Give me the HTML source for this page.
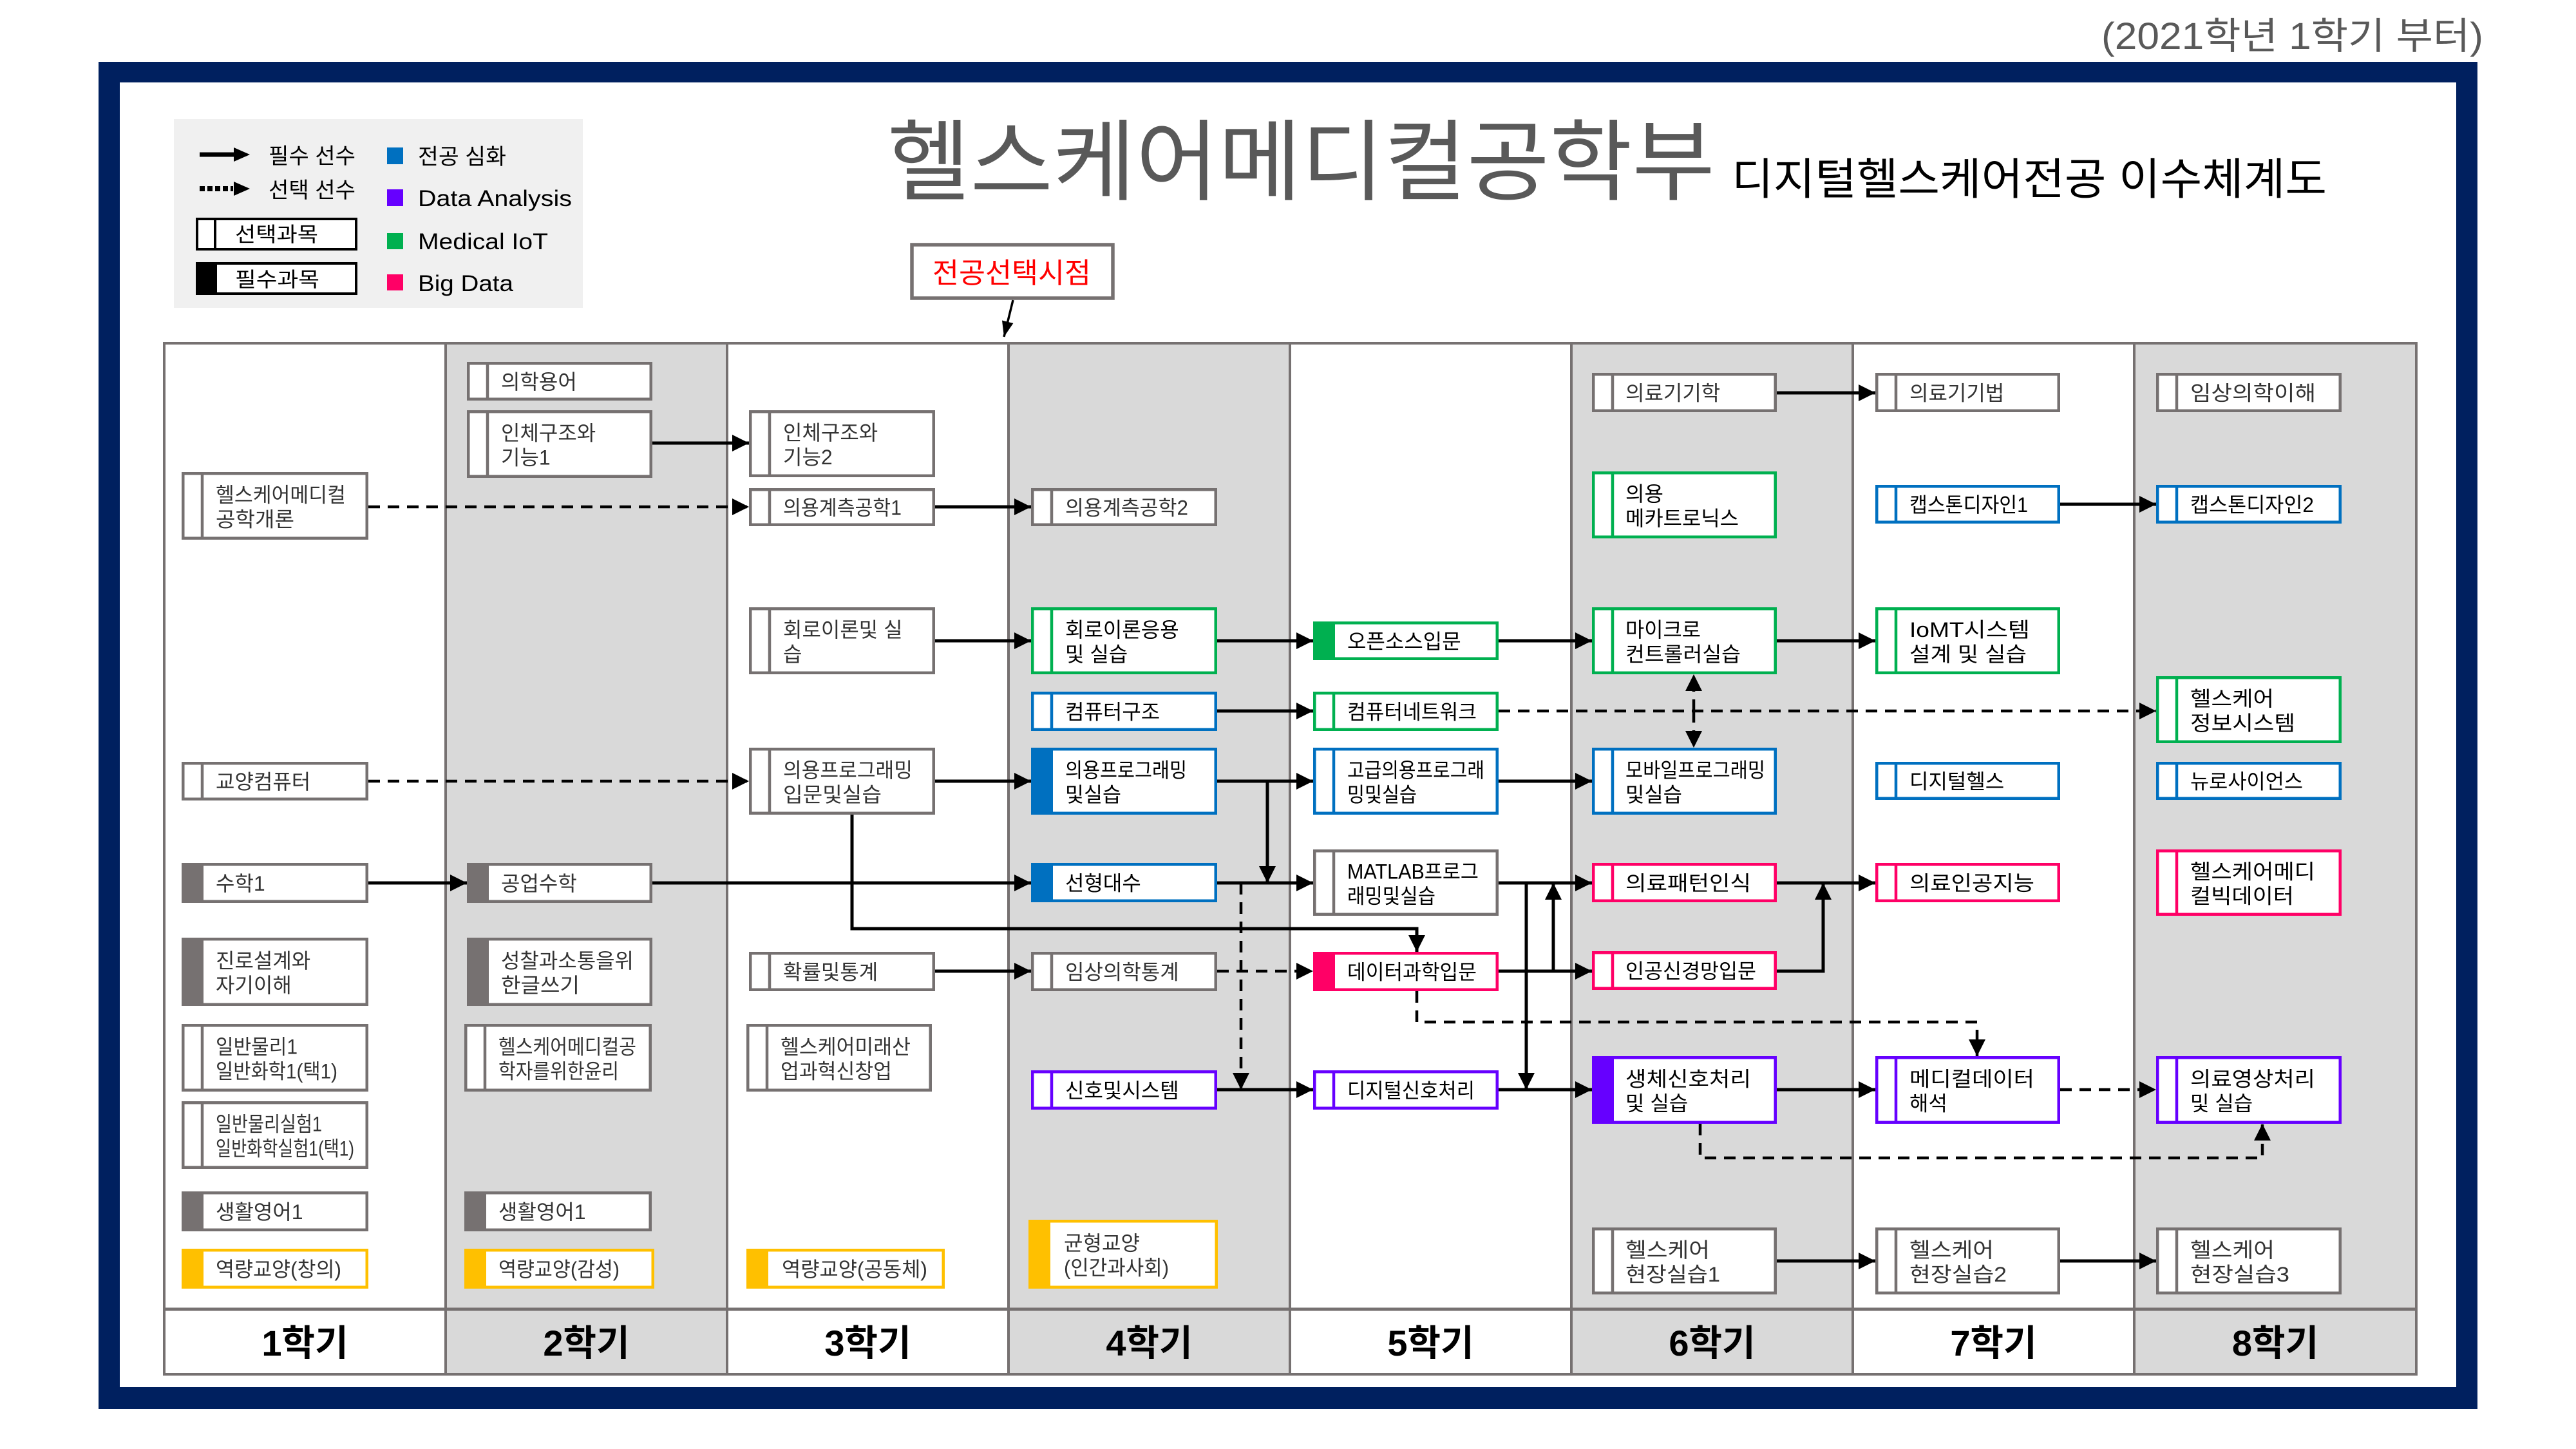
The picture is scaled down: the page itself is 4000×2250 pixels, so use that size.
<!DOCTYPE html>
<html lang="ko">
<head>
<meta charset="utf-8">
<title>디지털헬스케어전공 이수체계도</title>
<style>
html,body{margin:0;padding:0;background:#fff;}
svg{display:block;}
svg text{font-family:"Liberation Sans","Noto Sans CJK KR",sans-serif;}
.t{font-size:32px;fill:#333;}
.k{font-size:32px;fill:#000;}
.n{fill:#fff;stroke-width:4.5;}
.s{stroke-width:4.5;}
.e{fill:none;stroke:#000;stroke-width:5;}
.d{fill:none;stroke:#000;stroke-width:4.5;stroke-dasharray:18 12;}
.lab{font-size:56px;font-weight:700;fill:#000;}
</style>
</head>
<body>
<svg width="4000" height="2250" viewBox="0 0 4000 2250" xmlns="http://www.w3.org/2000/svg">
<defs>
<marker id="a" markerUnits="userSpaceOnUse" markerWidth="28" markerHeight="26" refX="26" refY="13" orient="auto"><path d="M0,0 L26,13 L0,26 z" fill="#000"/></marker>
<marker id="b" markerUnits="userSpaceOnUse" markerWidth="26" markerHeight="18" refX="24" refY="9" orient="auto"><path d="M0,0 L24,9 L0,18 z" fill="#000"/></marker>
</defs>
<rect x="0" y="0" width="4000" height="2250" fill="#fff"/>

<!-- top-right note -->
<text x="3263" y="76" font-size="58" fill="#595959" textLength="593" lengthAdjust="spacingAndGlyphs">(2021학년 1학기 부터)</text>

<!-- navy frame -->
<rect x="153" y="96" width="3694" height="2092" fill="#00205f"/>
<rect x="186" y="128" width="3628" height="2026" fill="#fff"/>

<!-- legend -->
<rect x="270" y="185" width="635" height="293" fill="#f0f0f0"/>
<line x1="310" y1="240" x2="366" y2="240" stroke="#000" stroke-width="7"/>
<path d="M363,229 L388,240 L363,251 z" fill="#000"/>
<text x="417" y="254" font-size="34" fill="#000" textLength="135" lengthAdjust="spacingAndGlyphs">필수 선수</text>
<line x1="310" y1="293" x2="362" y2="293" stroke="#000" stroke-width="8" stroke-dasharray="8 4"/>
<path d="M363,282 L388,293 L363,304 z" fill="#000"/>
<text x="417" y="307" font-size="34" fill="#000" textLength="135" lengthAdjust="spacingAndGlyphs">선택 선수</text>
<rect x="306" y="340" width="247" height="47" fill="#fff" stroke="#000" stroke-width="4"/>
<line x1="334" y1="338" x2="334" y2="389" stroke="#000" stroke-width="4"/>
<text x="365" y="375" font-size="32" fill="#000" textLength="129" lengthAdjust="spacingAndGlyphs">선택과목</text>
<rect x="306" y="409" width="247" height="47" fill="#fff" stroke="#000" stroke-width="4"/>
<rect x="304" y="407" width="33" height="51" fill="#000"/>
<text x="365" y="445" font-size="32" fill="#000" textLength="131" lengthAdjust="spacingAndGlyphs">필수과목</text>
<rect x="601" y="229" width="25" height="26" fill="#0070C0"/>
<rect x="601" y="294" width="25" height="26" fill="#6600FF"/>
<rect x="601" y="362" width="25" height="25" fill="#00B050"/>
<rect x="601" y="426" width="25" height="25" fill="#FF0066"/>
<text x="649" y="255" font-size="34" fill="#000" textLength="137" lengthAdjust="spacingAndGlyphs">전공 심화</text>
<text x="649" y="320" font-size="35" fill="#000" textLength="239" lengthAdjust="spacingAndGlyphs">Data Analysis</text>
<text x="649" y="387" font-size="35" fill="#000" textLength="202" lengthAdjust="spacingAndGlyphs">Medical IoT</text>
<text x="649" y="452" font-size="35" fill="#000" textLength="148" lengthAdjust="spacingAndGlyphs">Big Data</text>

<!-- title -->
<text x="1378" y="300" font-size="138" fill="#595959" textLength="1285" lengthAdjust="spacingAndGlyphs">헬스케어메디컬공학부</text>
<text x="2689" y="302" font-size="68" fill="#000" textLength="924" lengthAdjust="spacingAndGlyphs">디지털헬스케어전공 이수체계도</text>

<!-- 전공선택시점 -->
<rect x="1416" y="380" width="312" height="83" fill="#fff" stroke="#767171" stroke-width="5.5"/>
<text x="1448" y="439" font-size="44" fill="#FF0000" textLength="246" lengthAdjust="spacingAndGlyphs">전공선택시점</text>
<line x1="1573" y1="466" x2="1559" y2="523" stroke="#000" stroke-width="3.5" marker-end="url(#b)"/>

<!-- table backgrounds -->
<rect x="692" y="533" width="437" height="1601" fill="#d9d9d9"/>
<rect x="1566" y="533" width="437" height="1601" fill="#d9d9d9"/>
<rect x="2440" y="533" width="437" height="1601" fill="#d9d9d9"/>
<rect x="3314" y="533" width="438" height="1601" fill="#d9d9d9"/>
<g stroke="#767171" stroke-width="4" fill="none">
<rect x="255" y="533" width="3497" height="1601"/>
<line x1="692" y1="533" x2="692" y2="2134"/>
<line x1="1129" y1="533" x2="1129" y2="2134"/>
<line x1="1566" y1="533" x2="1566" y2="2134"/>
<line x1="2003" y1="533" x2="2003" y2="2134"/>
<line x1="2440" y1="533" x2="2440" y2="2134"/>
<line x1="2877" y1="533" x2="2877" y2="2134"/>
<line x1="3314" y1="533" x2="3314" y2="2134"/>
<line x1="255" y1="2033" x2="3752" y2="2033" stroke-width="5"/>
</g>
<text class="lab" x="473.5" y="2105" text-anchor="middle">1학기</text>
<text class="lab" x="910.5" y="2105" text-anchor="middle">2학기</text>
<text class="lab" x="1347.5" y="2105" text-anchor="middle">3학기</text>
<text class="lab" x="1784.5" y="2105" text-anchor="middle">4학기</text>
<text class="lab" x="2221.5" y="2105" text-anchor="middle">5학기</text>
<text class="lab" x="2658.5" y="2105" text-anchor="middle">6학기</text>
<text class="lab" x="3095.5" y="2105" text-anchor="middle">7학기</text>
<text class="lab" x="3533" y="2105" text-anchor="middle">8학기</text>

<!-- edges solid -->
<path class="e" d="M1013,688 H1163" marker-end="url(#a)"/>
<path class="e" d="M1452,787 H1601" marker-end="url(#a)"/>
<path class="e" d="M1452,995 H1601" marker-end="url(#a)"/>
<path class="e" d="M1890,995 H2039" marker-end="url(#a)"/>
<path class="e" d="M2327,995 H2472" marker-end="url(#a)"/>
<path class="e" d="M2759,995 H2912" marker-end="url(#a)"/>
<path class="e" d="M1890,1104 H2039" marker-end="url(#a)"/>
<path class="e" d="M1452,1213 H1601" marker-end="url(#a)"/>
<path class="e" d="M1890,1213 H2039" marker-end="url(#a)"/>
<path class="e" d="M2327,1213 H2472" marker-end="url(#a)"/>
<path class="e" d="M1968,1213 V1371" marker-end="url(#a)"/>
<path class="e" d="M572,1371 H725" marker-end="url(#a)"/>
<path class="e" d="M1013,1371 H1601" marker-end="url(#a)"/>
<path class="e" d="M1890,1371 H2039" marker-end="url(#a)"/>
<path class="e" d="M1323,1265 V1442 H2200 V1478" marker-end="url(#a)"/>
<path class="e" d="M1452,1508 H1601" marker-end="url(#a)"/>
<path class="e" d="M2327,1371 H2472" marker-end="url(#a)"/>
<path class="e" d="M2370,1371 V1692" marker-end="url(#a)"/>
<path class="e" d="M2327,1508 H2472" marker-end="url(#a)"/>
<path class="e" d="M2412,1508 V1371" marker-end="url(#a)"/>
<path class="e" d="M1890,1692 H2039" marker-end="url(#a)"/>
<path class="e" d="M2327,1692 H2472" marker-end="url(#a)"/>
<path class="e" d="M2759,1371 H2912" marker-end="url(#a)"/>
<path class="e" d="M2759,1508 H2831 V1371" marker-end="url(#a)"/>
<path class="e" d="M2759,1692 H2912" marker-end="url(#a)"/>
<path class="e" d="M2759,610 H2912" marker-end="url(#a)"/>
<path class="e" d="M3199,783 H3348" marker-end="url(#a)"/>
<path class="e" d="M2759,1958 H2912" marker-end="url(#a)"/>
<path class="e" d="M3199,1958 H3348" marker-end="url(#a)"/>

<!-- edges dashed -->
<path class="d" d="M572,787 H1163" marker-end="url(#a)"/>
<path class="d" d="M572,1213 H1163" marker-end="url(#a)"/>
<path class="d" d="M2327,1104 H3348" marker-end="url(#a)"/>
<path class="d" d="M2630,1104 V1047" marker-end="url(#a)"/>
<path class="d" d="M2630,1104 V1161" marker-end="url(#a)"/>
<path class="d" d="M1890,1508 H2039" marker-end="url(#a)"/>
<path class="d" d="M1927,1371 V1692" marker-end="url(#a)"/>
<path class="d" d="M2200,1539 V1587 H3070 V1640" marker-end="url(#a)"/>
<path class="d" d="M3199,1692 H3348" marker-end="url(#a)"/>
<path class="d" d="M2640,1745 V1798 H3513 V1745" marker-end="url(#a)"/>

<!-- ===== Column 1 ===== -->
<rect class="n" x="284.25" y="735.25" width="285.5" height="100.5" stroke="#767171"/>
<line class="s" x1="314" y1="733" x2="314" y2="838" stroke="#767171"/>
<text class="t" x="335" y="779.5" textLength="202" lengthAdjust="spacingAndGlyphs">헬스케어메디컬</text>
<text class="t" x="335" y="817.5" textLength="122" lengthAdjust="spacingAndGlyphs">공학개론</text>

<rect class="n" x="284.25" y="1185.25" width="285.5" height="55.5" stroke="#767171"/>
<line class="s" x1="314" y1="1183" x2="314" y2="1243" stroke="#767171"/>
<text class="t" x="335" y="1225">교양컴퓨터</text>

<rect class="n" x="284.25" y="1342.25" width="285.5" height="57.5" stroke="#767171"/>
<rect x="282" y="1340" width="34" height="62" fill="#767171"/>
<text class="t" x="335" y="1383">수학1</text>

<rect class="n" x="284.25" y="1458.25" width="285.5" height="101.5" stroke="#767171"/>
<rect x="282" y="1456" width="34" height="106" fill="#767171"/>
<text class="t" x="335" y="1503">진로설계와</text>
<text class="t" x="335" y="1541">자기이해</text>

<rect class="n" x="284.25" y="1592.25" width="285.5" height="100.5" stroke="#767171"/>
<line class="s" x1="314" y1="1590" x2="314" y2="1695" stroke="#767171"/>
<text class="t" x="335" y="1636.5" textLength="127" lengthAdjust="spacingAndGlyphs">일반물리1</text>
<text class="t" x="335" y="1674.5" textLength="189" lengthAdjust="spacingAndGlyphs">일반화학1(택1)</text>

<rect class="n" x="284.25" y="1712.25" width="285.5" height="100.5" stroke="#767171"/>
<line class="s" x1="314" y1="1710" x2="314" y2="1815" stroke="#767171"/>
<text class="t" x="335" y="1756.5" textLength="165" lengthAdjust="spacingAndGlyphs">일반물리실험1</text>
<text class="t" x="335" y="1794.5" textLength="215" lengthAdjust="spacingAndGlyphs">일반화학실험1(택1)</text>

<rect class="n" x="284.25" y="1852.25" width="285.5" height="57.5" stroke="#767171"/>
<rect x="282" y="1850" width="34" height="62" fill="#767171"/>
<text class="t" x="335" y="1893">생활영어1</text>

<rect class="n" x="284.25" y="1941.25" width="285.5" height="57.5" stroke="#FFC000"/>
<rect x="282" y="1939" width="34" height="62" fill="#FFC000"/>
<text class="t" x="335" y="1982" textLength="195" lengthAdjust="spacingAndGlyphs">역량교양(창의)</text>

<!-- ===== Column 2 ===== -->
<rect class="n" x="727.25" y="564.25" width="283.5" height="55.5" stroke="#767171"/>
<line class="s" x1="757" y1="562" x2="757" y2="622" stroke="#767171"/>
<text class="t" x="778" y="604">의학용어</text>

<rect class="n" x="727.25" y="639.25" width="283.5" height="100.5" stroke="#767171"/>
<line class="s" x1="757" y1="637" x2="757" y2="742" stroke="#767171"/>
<text class="t" x="778" y="683.5">인체구조와</text>
<text class="t" x="778" y="721.5">기능1</text>

<rect class="n" x="727.25" y="1342.25" width="283.5" height="57.5" stroke="#767171"/>
<rect x="725" y="1340" width="34" height="62" fill="#767171"/>
<text class="t" x="778" y="1383">공업수학</text>

<rect class="n" x="727.25" y="1458.25" width="283.5" height="101.5" stroke="#767171"/>
<rect x="725" y="1456" width="34" height="106" fill="#767171"/>
<text class="t" x="778" y="1503" textLength="206" lengthAdjust="spacingAndGlyphs">성찰과소통을위</text>
<text class="t" x="778" y="1541" textLength="122" lengthAdjust="spacingAndGlyphs">한글쓰기</text>

<rect class="n" x="723.25" y="1592.25" width="286.5" height="100.5" stroke="#767171"/>
<line class="s" x1="753" y1="1590" x2="753" y2="1695" stroke="#767171"/>
<text class="t" x="774" y="1636.5" textLength="214" lengthAdjust="spacingAndGlyphs">헬스케어메디컬공</text>
<text class="t" x="774" y="1674.5" textLength="187" lengthAdjust="spacingAndGlyphs">학자를위한윤리</text>

<rect class="n" x="723.25" y="1852.25" width="286.5" height="57.5" stroke="#767171"/>
<rect x="721" y="1850" width="34" height="62" fill="#767171"/>
<text class="t" x="774" y="1893">생활영어1</text>

<rect class="n" x="723.25" y="1941.25" width="290.5" height="57.5" stroke="#FFC000"/>
<rect x="721" y="1939" width="34" height="62" fill="#FFC000"/>
<text class="t" x="774" y="1982" textLength="188" lengthAdjust="spacingAndGlyphs">역량교양(감성)</text>

<!-- ===== Column 3 ===== -->
<rect class="n" x="1165.25" y="639.25" width="284.5" height="99.5" stroke="#767171"/>
<line class="s" x1="1195" y1="637" x2="1195" y2="741" stroke="#767171"/>
<text class="t" x="1216" y="683">인체구조와</text>
<text class="t" x="1216" y="721">기능2</text>

<rect class="n" x="1165.25" y="760.25" width="284.5" height="54.5" stroke="#767171"/>
<line class="s" x1="1195" y1="758" x2="1195" y2="817" stroke="#767171"/>
<text class="t" x="1216" y="799.5" textLength="184" lengthAdjust="spacingAndGlyphs">의용계측공학1</text>

<rect class="n" x="1165.25" y="945.25" width="284.5" height="99.5" stroke="#767171"/>
<line class="s" x1="1195" y1="943" x2="1195" y2="1047" stroke="#767171"/>
<text class="t" x="1216" y="989">회로이론및 실</text>
<text class="t" x="1216" y="1027">습</text>

<rect class="n" x="1165.25" y="1163.25" width="284.5" height="99.5" stroke="#767171"/>
<line class="s" x1="1195" y1="1161" x2="1195" y2="1265" stroke="#767171"/>
<text class="t" x="1216" y="1207" textLength="201" lengthAdjust="spacingAndGlyphs">의용프로그래밍</text>
<text class="t" x="1216" y="1245" textLength="153" lengthAdjust="spacingAndGlyphs">입문및실습</text>

<rect class="n" x="1165.25" y="1480.25" width="284.5" height="56.5" stroke="#767171"/>
<line class="s" x1="1195" y1="1478" x2="1195" y2="1539" stroke="#767171"/>
<text class="t" x="1216" y="1520.5">확률및통계</text>

<rect class="n" x="1161.25" y="1592.25" width="283.5" height="100.5" stroke="#767171"/>
<line class="s" x1="1191" y1="1590" x2="1191" y2="1695" stroke="#767171"/>
<text class="t" x="1212" y="1636.5" textLength="202" lengthAdjust="spacingAndGlyphs">헬스케어미래산</text>
<text class="t" x="1212" y="1674.5" textLength="173" lengthAdjust="spacingAndGlyphs">업과혁신창업</text>

<rect class="n" x="1161.25" y="1941.25" width="303.5" height="57.5" stroke="#FFC000"/>
<rect x="1159" y="1939" width="34" height="62" fill="#FFC000"/>
<text class="t" x="1214" y="1982" textLength="226" lengthAdjust="spacingAndGlyphs">역량교양(공동체)</text>

<!-- ===== Column 4 ===== -->
<rect class="n" x="1603.25" y="760.25" width="284.5" height="54.5" stroke="#767171"/>
<line class="s" x1="1633" y1="758" x2="1633" y2="817" stroke="#767171"/>
<text class="t" x="1654" y="799.5" textLength="191" lengthAdjust="spacingAndGlyphs">의용계측공학2</text>

<rect class="n" x="1603.25" y="945.25" width="284.5" height="99.5" stroke="#00B050"/>
<line class="s" x1="1633" y1="943" x2="1633" y2="1047" stroke="#00B050"/>
<text class="k" x="1654" y="989">회로이론응용</text>
<text class="k" x="1654" y="1027">및 실습</text>

<rect class="n" x="1603.25" y="1076.25" width="284.5" height="56.5" stroke="#0070C0"/>
<line class="s" x1="1633" y1="1074" x2="1633" y2="1135" stroke="#0070C0"/>
<text class="k" x="1654" y="1116.5">컴퓨터구조</text>

<rect class="n" x="1603.25" y="1163.25" width="284.5" height="99.5" stroke="#0070C0"/>
<rect x="1601" y="1161" width="34" height="104" fill="#0070C0"/>
<text class="k" x="1654" y="1207" textLength="189" lengthAdjust="spacingAndGlyphs">의용프로그래밍</text>
<text class="k" x="1654" y="1245" textLength="87" lengthAdjust="spacingAndGlyphs">및실습</text>

<rect class="n" x="1603.25" y="1342.25" width="284.5" height="56.5" stroke="#0070C0"/>
<rect x="1601" y="1340" width="34" height="61" fill="#0070C0"/>
<text class="k" x="1654" y="1382.5">선형대수</text>

<rect class="n" x="1603.25" y="1480.25" width="284.5" height="56.5" stroke="#767171"/>
<line class="s" x1="1633" y1="1478" x2="1633" y2="1539" stroke="#767171"/>
<text class="t" x="1654" y="1520.5">임상의학통계</text>

<rect class="n" x="1603.25" y="1664.25" width="284.5" height="56.5" stroke="#6600FF"/>
<line class="s" x1="1633" y1="1662" x2="1633" y2="1723" stroke="#6600FF"/>
<text class="k" x="1654" y="1704.5">신호및시스템</text>

<rect class="n" x="1599.25" y="1896.25" width="289.5" height="102.5" stroke="#FFC000"/>
<rect x="1597" y="1894" width="34" height="107" fill="#FFC000"/>
<text class="t" x="1652" y="1941.5" textLength="118" lengthAdjust="spacingAndGlyphs">균형교양</text>
<text class="t" x="1652" y="1979.5" textLength="163" lengthAdjust="spacingAndGlyphs">(인간과사회)</text>

<!-- ===== Column 5 ===== -->
<rect class="n" x="2041.25" y="967.25" width="283.5" height="55.5" stroke="#00B050"/>
<rect x="2039" y="965" width="34" height="60" fill="#00B050"/>
<text class="k" x="2092" y="1007">오픈소스입문</text>

<rect class="n" x="2041.25" y="1076.25" width="283.5" height="56.5" stroke="#00B050"/>
<line class="s" x1="2071" y1="1074" x2="2071" y2="1135" stroke="#00B050"/>
<text class="k" x="2092" y="1116.5" textLength="201" lengthAdjust="spacingAndGlyphs">컴퓨터네트워크</text>

<rect class="n" x="2041.25" y="1163.25" width="283.5" height="99.5" stroke="#0070C0"/>
<line class="s" x1="2071" y1="1161" x2="2071" y2="1265" stroke="#0070C0"/>
<text class="k" x="2092" y="1207" textLength="213" lengthAdjust="spacingAndGlyphs">고급의용프로그래</text>
<text class="k" x="2092" y="1245" textLength="108" lengthAdjust="spacingAndGlyphs">밍및실습</text>

<rect class="n" x="2041.25" y="1321.25" width="283.5" height="98.5" stroke="#767171"/>
<line class="s" x1="2071" y1="1319" x2="2071" y2="1422" stroke="#767171"/>
<text class="k" x="2092" y="1364.5" textLength="204" lengthAdjust="spacingAndGlyphs">MATLAB프로그</text>
<text class="k" x="2092" y="1402.5" textLength="137" lengthAdjust="spacingAndGlyphs">래밍및실습</text>

<rect class="n" x="2041.25" y="1480.25" width="283.5" height="56.5" stroke="#FF0066"/>
<rect x="2039" y="1478" width="34" height="61" fill="#FF0066"/>
<text class="k" x="2092" y="1520.5" textLength="201" lengthAdjust="spacingAndGlyphs">데이터과학입문</text>

<rect class="n" x="2041.25" y="1664.25" width="283.5" height="56.5" stroke="#6600FF"/>
<line class="s" x1="2071" y1="1662" x2="2071" y2="1723" stroke="#6600FF"/>
<text class="k" x="2092" y="1704.5" textLength="198" lengthAdjust="spacingAndGlyphs">디지털신호처리</text>

<!-- ===== Column 6 ===== -->
<rect class="n" x="2474.25" y="581.25" width="282.5" height="56.5" stroke="#767171"/>
<line class="s" x1="2504" y1="579" x2="2504" y2="640" stroke="#767171"/>
<text class="t" x="2524" y="621.5">의료기기학</text>

<rect class="n" x="2474.25" y="734.25" width="282.5" height="99.5" stroke="#00B050"/>
<line class="s" x1="2504" y1="732" x2="2504" y2="836" stroke="#00B050"/>
<text class="k" x="2524" y="778">의용</text>
<text class="k" x="2524" y="816" textLength="176" lengthAdjust="spacingAndGlyphs">메카트로닉스</text>

<rect class="n" x="2474.25" y="945.25" width="282.5" height="99.5" stroke="#00B050"/>
<line class="s" x1="2504" y1="943" x2="2504" y2="1047" stroke="#00B050"/>
<text class="k" x="2524" y="989" textLength="117" lengthAdjust="spacingAndGlyphs">마이크로</text>
<text class="k" x="2524" y="1027" textLength="179" lengthAdjust="spacingAndGlyphs">컨트롤러실습</text>

<rect class="n" x="2474.25" y="1163.25" width="282.5" height="99.5" stroke="#0070C0"/>
<line class="s" x1="2504" y1="1161" x2="2504" y2="1265" stroke="#0070C0"/>
<text class="k" x="2524" y="1207" textLength="217" lengthAdjust="spacingAndGlyphs">모바일프로그래밍</text>
<text class="k" x="2524" y="1245" textLength="88" lengthAdjust="spacingAndGlyphs">및실습</text>

<rect class="n" x="2474.25" y="1342.25" width="282.5" height="56.5" stroke="#FF0066"/>
<line class="s" x1="2504" y1="1340" x2="2504" y2="1401" stroke="#FF0066"/>
<text class="k" x="2524" y="1382.5" textLength="195" lengthAdjust="spacingAndGlyphs">의료패턴인식</text>

<rect class="n" x="2474.25" y="1479.25" width="282.5" height="55.5" stroke="#FF0066"/>
<line class="s" x1="2504" y1="1477" x2="2504" y2="1537" stroke="#FF0066"/>
<text class="k" x="2524" y="1519" textLength="203" lengthAdjust="spacingAndGlyphs">인공신경망입문</text>

<rect class="n" x="2474.25" y="1642.25" width="282.5" height="100.5" stroke="#6600FF"/>
<rect x="2472" y="1640" width="34" height="105" fill="#6600FF"/>
<text class="k" x="2524" y="1686.5" textLength="195" lengthAdjust="spacingAndGlyphs">생체신호처리</text>
<text class="k" x="2524" y="1724.5">및 실습</text>

<rect class="n" x="2474.25" y="1908.25" width="282.5" height="99.5" stroke="#767171"/>
<line class="s" x1="2504" y1="1906" x2="2504" y2="2010" stroke="#767171"/>
<text class="t" x="2524" y="1952" textLength="131" lengthAdjust="spacingAndGlyphs">헬스케어</text>
<text class="t" x="2524" y="1990" textLength="147" lengthAdjust="spacingAndGlyphs">현장실습1</text>

<!-- ===== Column 7 ===== -->
<rect class="n" x="2914.25" y="581.25" width="282.5" height="56.5" stroke="#767171"/>
<line class="s" x1="2944" y1="579" x2="2944" y2="640" stroke="#767171"/>
<text class="t" x="2965" y="621.5">의료기기법</text>

<rect class="n" x="2914.25" y="755.25" width="282.5" height="55.5" stroke="#0070C0"/>
<line class="s" x1="2944" y1="753" x2="2944" y2="813" stroke="#0070C0"/>
<text class="k" x="2965" y="795" textLength="184" lengthAdjust="spacingAndGlyphs">캡스톤디자인1</text>

<rect class="n" x="2914.25" y="945.25" width="282.5" height="99.5" stroke="#00B050"/>
<line class="s" x1="2944" y1="943" x2="2944" y2="1047" stroke="#00B050"/>
<text class="k" x="2965" y="989" textLength="187" lengthAdjust="spacingAndGlyphs">IoMT시스템</text>
<text class="k" x="2965" y="1027" textLength="182" lengthAdjust="spacingAndGlyphs">설계 및 실습</text>

<rect class="n" x="2914.25" y="1185.25" width="282.5" height="54.5" stroke="#0070C0"/>
<line class="s" x1="2944" y1="1183" x2="2944" y2="1242" stroke="#0070C0"/>
<text class="k" x="2965" y="1224.5">디지털헬스</text>

<rect class="n" x="2914.25" y="1342.25" width="282.5" height="56.5" stroke="#FF0066"/>
<line class="s" x1="2944" y1="1340" x2="2944" y2="1401" stroke="#FF0066"/>
<text class="k" x="2965" y="1382.5" textLength="194" lengthAdjust="spacingAndGlyphs">의료인공지능</text>

<rect class="n" x="2914.25" y="1642.25" width="282.5" height="100.5" stroke="#6600FF"/>
<line class="s" x1="2944" y1="1640" x2="2944" y2="1745" stroke="#6600FF"/>
<text class="k" x="2965" y="1686.5" textLength="194" lengthAdjust="spacingAndGlyphs">메디컬데이터</text>
<text class="k" x="2965" y="1724.5">해석</text>

<rect class="n" x="2914.25" y="1908.25" width="282.5" height="99.5" stroke="#767171"/>
<line class="s" x1="2944" y1="1906" x2="2944" y2="2010" stroke="#767171"/>
<text class="t" x="2965" y="1952" textLength="131" lengthAdjust="spacingAndGlyphs">헬스케어</text>
<text class="t" x="2965" y="1990" textLength="151" lengthAdjust="spacingAndGlyphs">현장실습2</text>

<!-- ===== Column 8 ===== -->
<rect class="n" x="3350.25" y="581.25" width="283.5" height="56.5" stroke="#767171"/>
<line class="s" x1="3380" y1="579" x2="3380" y2="640" stroke="#767171"/>
<text class="t" x="3401" y="621.5" textLength="195" lengthAdjust="spacingAndGlyphs">임상의학이해</text>

<rect class="n" x="3350.25" y="755.25" width="283.5" height="55.5" stroke="#0070C0"/>
<line class="s" x1="3380" y1="753" x2="3380" y2="813" stroke="#0070C0"/>
<text class="k" x="3401" y="795" textLength="192" lengthAdjust="spacingAndGlyphs">캡스톤디자인2</text>

<rect class="n" x="3350.25" y="1052.25" width="283.5" height="99.5" stroke="#00B050"/>
<line class="s" x1="3380" y1="1050" x2="3380" y2="1154" stroke="#00B050"/>
<text class="k" x="3401" y="1096" textLength="130" lengthAdjust="spacingAndGlyphs">헬스케어</text>
<text class="k" x="3401" y="1134" textLength="163" lengthAdjust="spacingAndGlyphs">정보시스템</text>

<rect class="n" x="3350.25" y="1185.25" width="283.5" height="54.5" stroke="#0070C0"/>
<line class="s" x1="3380" y1="1183" x2="3380" y2="1242" stroke="#0070C0"/>
<text class="k" x="3401" y="1224.5" textLength="175" lengthAdjust="spacingAndGlyphs">뉴로사이언스</text>

<rect class="n" x="3350.25" y="1321.25" width="283.5" height="98.5" stroke="#FF0066"/>
<line class="s" x1="3380" y1="1319" x2="3380" y2="1422" stroke="#FF0066"/>
<text class="k" x="3401" y="1364.5" textLength="194" lengthAdjust="spacingAndGlyphs">헬스케어메디</text>
<text class="k" x="3401" y="1402.5" textLength="161" lengthAdjust="spacingAndGlyphs">컬빅데이터</text>

<rect class="n" x="3350.25" y="1642.25" width="283.5" height="100.5" stroke="#6600FF"/>
<line class="s" x1="3380" y1="1640" x2="3380" y2="1745" stroke="#6600FF"/>
<text class="k" x="3401" y="1686.5" textLength="194" lengthAdjust="spacingAndGlyphs">의료영상처리</text>
<text class="k" x="3401" y="1724.5">및 실습</text>

<rect class="n" x="3350.25" y="1908.25" width="283.5" height="99.5" stroke="#767171"/>
<line class="s" x1="3380" y1="1906" x2="3380" y2="2010" stroke="#767171"/>
<text class="t" x="3401" y="1952" textLength="131" lengthAdjust="spacingAndGlyphs">헬스케어</text>
<text class="t" x="3401" y="1990" textLength="154" lengthAdjust="spacingAndGlyphs">현장실습3</text>
</svg>
</body>
</html>
